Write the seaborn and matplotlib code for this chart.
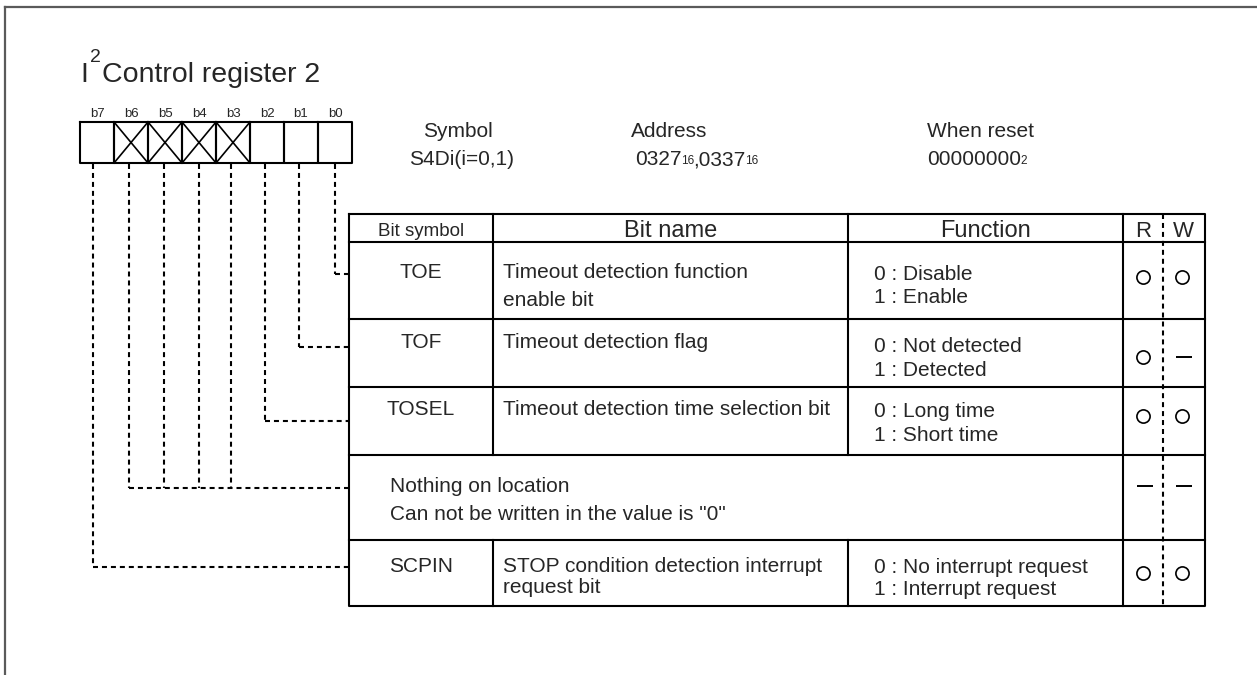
import matplotlib
matplotlib.use("Agg")
import matplotlib.pyplot as plt
import seaborn as sns

# ---------------- data ----------------
title_text = "Control register 2"
title_prefix = "I"
title_sup = "2"
register_bits = ["b7", "b6", "b5", "b4", "b3", "b2", "b1", "b0"]
reserved_bits = ["b6", "b5", "b4", "b3"]
info_headers = ["Symbol", "Address", "When reset"]
symbol_value = "S4Di(i=0,1)"
address_values = ["0327", "0337"]
address_radix = "16"
reset_value = "00000000"
reset_radix = "2"
column_headers = ["Bit symbol", "Bit name", "Function", "R", "W"]
bit_symbols = ["TOE", "TOF", "TOSEL", "", "SCPIN"]
bit_names = [
    ["Timeout detection function", "enable bit"],
    ["Timeout detection flag"],
    ["Timeout detection time selection bit"],
    ["Nothing on location", 'Can not be written in the value is "0"'],
    ["STOP condition detection interrupt", "request bit"],
]
functions = [
    ["0 : Disable", "1 : Enable"],
    ["0 : Not detected", "1 : Detected"],
    ["0 : Long time", "1 : Short time"],
    [],
    ["0 : No interrupt request", "1 : Interrupt request"],
]
read_access = ["o", "o", "o", "-", "o"]
write_access = ["o", "-", "o", "-", "o"]
row_bits = [["b0"], ["b1"], ["b2"], ["b6", "b5", "b4", "b3"], ["b7"]]

# ---------------- layout (pixels) ----------------
W, H = 1257, 675
box_x0, box_y0, box_y1, cell_w = 80, 122, 163, 34
leader_x = dict(zip(register_bits, [93, 129, 164, 199, 231, 265, 299, 335]))
tx_left, tx_name, tx_func, tx_r, tx_rw, tx_right = 349, 493, 848, 1123, 1163, 1205
tbl_top = 214
row_edges = [242, 319, 387, 455, 540, 606]
leader_y = [274, 347, 421, 488, 567]
sym_base = [278, 348, 415, 492, 572]
name_base = [[278, 306], [348], [415], [492, 520], [572, 593]]
func_base = [[280, 303], [352, 376], [417, 441], [], [573, 595]]
mark_y = [277, 357, 416, 486, 573]
mark_rx, mark_wx = 1143, 1182

BODY = 15
LW = 1.5

sns.set_style("white")
plt.rcParams["font.family"] = ["Liberation Sans", "DejaVu Sans"]

fig = plt.figure(figsize=(W / 100, H / 100), dpi=100)
ax = fig.add_axes([0, 0, 1, 1])
ax.set_xlim(0, W)
ax.set_ylim(H, 0)
ax.axis("off")

def line(xs, ys, dashed=False, color="black", lw=LW):
    ax.plot(xs, ys, color=color, lw=lw, solid_capstyle="projecting",
            linestyle=(0, (2.4, 1.9)) if dashed else "-")

# outer frame
line([5, W], [7, 7], color="#5a5a5a", lw=1.6)
line([5, 5], [7, H], color="#5a5a5a", lw=1.6)

# title
t_i = ax.text(80, 82, title_prefix, fontsize=20.5, va="baseline", ha="left")
t_s = ax.annotate(title_sup, xy=(1, 1), xycoords=t_i, xytext=(1.5, 9),
                  textcoords="offset points", fontsize=14, va="top", ha="left")
ax.annotate(title_text, xy=(1, 0), xycoords=(t_s, t_i), xytext=(1.0, 0),
            textcoords="offset points", fontsize=20.5, va="bottom", ha="left")

# register box
for i, b in enumerate(register_bits):
    x0 = box_x0 + i * cell_w
    x1 = x0 + cell_w
    line([x0, x1, x1, x0, x0], [box_y0, box_y0, box_y1, box_y1, box_y0])
    ax.text((x0 + x1) / 2, 117, b, fontsize=9.5, ha="center", va="baseline")
    if b in reserved_bits:
        line([x0, x1], [box_y0, box_y1], lw=1.2)
        line([x0, x1], [box_y1, box_y0], lw=1.2)

# info block
ax.text(458, 137, info_headers[0], fontsize=BODY, ha="center", va="baseline")
ax.text(669, 137, info_headers[1], fontsize=BODY, ha="center", va="baseline")
ax.text(927, 137, info_headers[2], fontsize=BODY, ha="left", va="baseline")
ax.text(409, 165, symbol_value, fontsize=BODY, ha="left", va="baseline")

prev = ax.text(635, 165, address_values[0], fontsize=BODY, ha="left", va="baseline")
prev = ax.annotate(address_radix, xy=(1, 0), xycoords=prev, fontsize=8.5,
                   ha="left", va="bottom", xytext=(-0.6, 1.1), textcoords="offset points")
prev = ax.annotate("," + address_values[1], xy=(1, 0), xycoords=prev, fontsize=BODY,
                   ha="left", va="bottom", xytext=(-0.4, -1.1), textcoords="offset points")
ax.annotate(address_radix, xy=(1, 0), xycoords=prev, fontsize=8.5,
            ha="left", va="bottom", xytext=(-0.6, 1.1), textcoords="offset points")
prev = ax.text(927, 165, reset_value, fontsize=BODY, ha="left", va="baseline")
ax.annotate(reset_radix, xy=(1, 0), xycoords=prev, fontsize=8.5,
            ha="left", va="bottom", xytext=(-0.6, 1.1), textcoords="offset points")

# leader lines
for r, bits in enumerate(row_bits):
    xs = [leader_x[b] for b in bits]
    for x in xs:
        line([x, x], [box_y1 + 1, leader_y[r]], dashed=True)
    line([min(xs), tx_left], [leader_y[r], leader_y[r]], dashed=True)

# table grid
line([tx_left, tx_right, tx_right, tx_left, tx_left], [tbl_top, tbl_top, row_edges[-1], row_edges[-1], tbl_top])
for y in row_edges[:-1]:
    line([tx_left, tx_right], [y, y])
for x in (tx_name, tx_func):
    line([x, x], [tbl_top, row_edges[3]])
    line([x, x], [row_edges[4], row_edges[5]])
line([tx_r, tx_r], [tbl_top, row_edges[-1]])
line([tx_rw, tx_rw], [tbl_top, row_edges[-1]], dashed=True)

# header
ax.text((tx_left + tx_name) / 2, 236, column_headers[0], fontsize=13.5, ha="center", va="baseline")
ax.text((tx_name + tx_func) / 2, 237, column_headers[1], fontsize=17, ha="center", va="baseline")
ax.text((tx_func + tx_r) / 2, 237, column_headers[2], fontsize=17, ha="center", va="baseline")
ax.text(mark_rx, 237, column_headers[3], fontsize=16, ha="center", va="baseline")
ax.text(mark_wx + 1, 237, column_headers[4], fontsize=16, ha="center", va="baseline")

# rows
for r in range(len(bit_symbols)):
    if bit_symbols[r]:
        ax.text((tx_left + tx_name) / 2, sym_base[r], bit_symbols[r], fontsize=BODY,
                ha="center", va="baseline")
        nx = tx_name + 10
    else:
        nx = 390
    for txt, yb in zip(bit_names[r], name_base[r]):
        ax.text(nx, yb, txt, fontsize=BODY, ha="left", va="baseline")
    for txt, yb in zip(functions[r], func_base[r]):
        ax.text(874, yb, txt, fontsize=BODY, ha="left", va="baseline")
    for mk, mx in ((read_access[r], mark_rx), (write_access[r], mark_wx)):
        if mk == "o":
            ax.plot([mx], [mark_y[r]], marker="o", ms=9.5, mfc="white", mec="black", mew=1.2)
        else:
            ax.plot([mx + 2], [mark_y[r]], marker="_", ms=11.5, mec="black", mew=1.4)

fig.savefig("out.png", dpi=100, facecolor="white")
